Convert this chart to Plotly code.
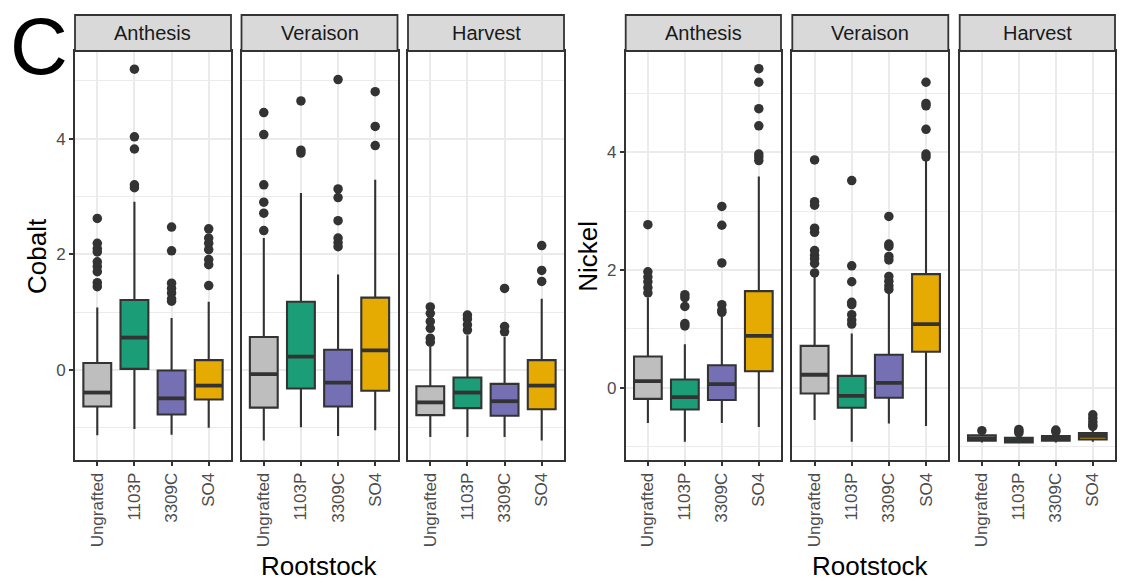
import plotly.graph_objects as go

W, H = 1127, 585

rootstocks = ["Ungrafted", "1103P", "3309C", "SO4"]
stages = ["Anthesis", "Veraison", "Harvest"]
box_colors = ["#BEBEBE", "#1B9E77", "#7570B3", "#E6AB02"]

# ---- Cobalt (rows: Anthesis, Veraison, Harvest; cols: rootstocks) ----
cobalt_q1 = [[-0.63, 0.02, -0.77, -0.51],
             [-0.65, -0.32, -0.63, -0.36],
             [-0.78, -0.66, -0.79, -0.68]]
cobalt_median = [[-0.39, 0.56, -0.49, -0.27],
                 [-0.07, 0.23, -0.22, 0.34],
                 [-0.56, -0.39, -0.54, -0.27]]
cobalt_q3 = [[0.12, 1.21, -0.01, 0.17],
             [0.57, 1.18, 0.35, 1.25],
             [-0.28, -0.13, -0.24, 0.17]]
cobalt_low = [[-1.13, -1.02, -1.12, -1.00],
              [-1.22, -0.99, -1.14, -1.04],
              [-1.16, -1.16, -1.16, -1.22]]
cobalt_high = [[1.08, 2.91, 0.90, 1.18],
               [2.28, 3.06, 1.65, 3.29],
               [0.40, 0.60, 0.57, 1.23]]
cobalt_outliers = [
    [[2.62, 2.19, 2.10, 2.04, 1.87, 1.79, 1.70, 1.51, 1.44],
     [5.20, 4.03, 3.82, 3.20, 3.15],
     [2.47, 2.06, 1.50, 1.41, 1.33, 1.23, 1.19],
     [2.44, 2.28, 2.19, 2.08, 1.91, 1.82, 1.46]],
    [[4.45, 4.07, 3.20, 2.90, 2.71, 2.41],
     [4.65, 3.80, 3.75],
     [5.02, 3.13, 2.98, 2.58, 2.28, 2.20, 2.13],
     [4.81, 4.21, 3.88]],
    [[1.09, 0.98, 0.84, 0.72, 0.55, 0.48],
     [0.95, 0.88, 0.78, 0.69],
     [1.41, 0.75, 0.66],
     [2.15, 1.72, 1.53]],
]

# ---- Nickel ----
nickel_q1 = [[-0.19, -0.37, -0.21, 0.28],
             [-0.10, -0.34, -0.17, 0.61],
             [-0.90, -0.93, -0.90, -0.88]]
nickel_median = [[0.11, -0.16, 0.06, 0.88],
                 [0.22, -0.14, 0.08, 1.08],
                 [-0.86, -0.89, -0.86, -0.82]]
nickel_q3 = [[0.53, 0.14, 0.38, 1.64],
             [0.71, 0.20, 0.56, 1.93],
             [-0.81, -0.85, -0.82, -0.77]]
nickel_low = [[-0.60, -0.92, -0.60, -0.67],
              [-0.55, -0.92, -0.61, -0.65],
              [-0.93, -0.95, -0.93, -0.92]]
nickel_high = [[1.53, 0.74, 1.21, 3.59],
               [1.89, 0.92, 1.60, 3.88],
               [-0.76, -0.80, -0.77, -0.70]]
nickel_outliers = [
    [[2.77, 1.97, 1.88, 1.80, 1.70, 1.61],
     [1.58, 1.53, 1.38, 1.09, 1.05],
     [3.08, 2.76, 2.12, 1.41, 1.32, 1.28],
     [5.42, 5.19, 4.74, 4.45, 3.97, 3.92, 3.86]],
    [[3.87, 3.16, 3.10, 2.71, 2.64, 2.33, 2.25, 2.19, 2.11, 1.95],
     [3.52, 2.07, 1.80, 1.45, 1.41, 1.24, 1.15, 1.08],
     [2.91, 2.44, 2.40, 2.23, 2.17, 1.89, 1.81, 1.73, 1.67],
     [5.19, 4.83, 4.79, 4.39, 3.97, 3.92]],
    [[-0.73],
     [-0.71, -0.74, -0.77],
     [-0.72, -0.75],
     [-0.46, -0.52, -0.58, -0.63, -0.66]],
]

y_ticks = [0, 2, 4]
y_minor = [-1, 1, 3, 5]

# ---------------- layout geometry (pixels) ----------------
FONT = "Liberation Sans, Arial, Helvetica, sans-serif"
DARK = "#333333"
GRID = "#EBEBEB"
panel_top, panel_bottom = 51, 460
strip_top = 15
panels_px = [
    [(75, 231), (241.5, 397.5), (408, 564)],
    [(625.7, 781), (792.3, 948.3), (959.7, 1115)],
]
y_ranges = [(-1.556, 5.514), (-1.229, 5.721)]
metrics = [
    ("Cobalt", cobalt_q1, cobalt_median, cobalt_q3, cobalt_low, cobalt_high, cobalt_outliers),
    ("Nickel", nickel_q1, nickel_median, nickel_q3, nickel_low, nickel_high, nickel_outliers),
]


def px_x(v):
    return v / W


def px_y(v):
    return 1 - v / H


BOX_W = 0.75
fig = go.Figure()
layout = {}
shapes = []
annotations = []

k = 0
for m, (name, q1, med, q3, lo, hi, outl) in enumerate(metrics):
    for s, stage in enumerate(stages):
        k += 1
        xa = "x" if k == 1 else f"x{k}"
        ya = "y" if k == 1 else f"y{k}"
        xkey = "xaxis" if k == 1 else f"xaxis{k}"
        ykey = "yaxis" if k == 1 else f"yaxis{k}"
        x0, x1 = panels_px[m][s]

        for i, rs in enumerate(rootstocks):
            fig.add_trace(go.Box(
                x=[i + 1], q1=[q1[s][i]], median=[med[s][i]], q3=[q3[s][i]],
                lowerfence=[lo[s][i]], upperfence=[hi[s][i]],
                width=BOX_W, whiskerwidth=0, boxpoints=False,
                fillcolor=box_colors[i], line=dict(color=DARK, width=2.1),
                xaxis=xa, yaxis=ya, showlegend=False, hoverinfo="skip",
            ))
        # thicker median bars (ggplot style)
        mx, my = [], []
        for i in range(len(rootstocks)):
            mx += [i + 1 - BOX_W / 2, i + 1 + BOX_W / 2, None]
            my += [med[s][i], med[s][i], None]
        fig.add_trace(go.Scatter(x=mx, y=my, mode="lines",
                                 line=dict(color=DARK, width=3.8),
                                 xaxis=xa, yaxis=ya, showlegend=False, hoverinfo="skip"))
        # outliers
        ox, oy = [], []
        for i in range(len(rootstocks)):
            ox += [i + 1] * len(outl[s][i])
            oy += outl[s][i]
        fig.add_trace(go.Scatter(x=ox, y=oy, mode="markers",
                                 marker=dict(color=DARK, size=9.5, line=dict(width=0)),
                                 xaxis=xa, yaxis=ya, showlegend=False, hoverinfo="skip"))

        layout[xkey] = dict(
            domain=[px_x(x0), px_x(x1)], anchor=ya, range=[0.4, 4.6],
            tickmode="array", tickvals=[1, 2, 3, 4], ticktext=rootstocks,
            tickangle=-90, ticks="outside", ticklen=4, tickwidth=1.6, tickcolor=DARK,
            tickfont=dict(family=FONT, size=17, color="#4D4D4D"),
            showline=True, mirror=True, linecolor=DARK, linewidth=1.8,
            showgrid=True, gridcolor=GRID, gridwidth=1.6, zeroline=False, fixedrange=True,
        )
        first = (s == 0)
        layout[ykey] = dict(
            domain=[px_y(panel_bottom), px_y(panel_top)], anchor=xa,
            range=list(y_ranges[m]), tickmode="array", tickvals=y_ticks,
            ticktext=[str(t) for t in y_ticks],
            showticklabels=first, ticks="outside" if first else "",
            ticklen=4, tickwidth=1.6, tickcolor=DARK,
            tickfont=dict(family=FONT, size=17, color="#4D4D4D"),
            showline=True, mirror=True, linecolor=DARK, linewidth=1.8,
            showgrid=True, gridcolor=GRID, gridwidth=1.6, zeroline=False, fixedrange=True,
            minor=dict(tickmode="array", tickvals=y_minor, showgrid=True,
                       gridcolor=GRID, gridwidth=0.8, ticks=""),
        )
        # facet strip
        shapes.append(dict(type="rect", xref="paper", yref="paper",
                           x0=px_x(x0), x1=px_x(x1), y0=px_y(panel_top), y1=px_y(strip_top),
                           fillcolor="#D9D9D9", line=dict(color=DARK, width=1.8), layer="above"))
        annotations.append(dict(text=stage, xref="paper", yref="paper",
                                x=px_x((x0 + x1) / 2), y=px_y((strip_top + panel_top) / 2),
                                xanchor="center", yanchor="middle", showarrow=False,
                                font=dict(family=FONT, size=20, color="#1A1A1A")))

    # axis titles
    fx0 = panels_px[m][0][0]
    fx1 = panels_px[m][2][1]
    annotations.append(dict(text="Rootstock", xref="paper", yref="paper",
                            x=px_x((fx0 + fx1) / 2), y=px_y(566), xanchor="center",
                            yanchor="middle", showarrow=False,
                            font=dict(family=FONT, size=26, color="black")))
    annotations.append(dict(text=name, xref="paper", yref="paper",
                            x=px_x(fx0 - 38), y=px_y(256), xanchor="center",
                            yanchor="middle", showarrow=False, textangle=-90,
                            font=dict(family=FONT, size=26, color="black")))

# panel label
annotations.append(dict(text="C", xref="paper", yref="paper",
                        x=px_x(39), y=1, xanchor="center", yanchor="top",
                        showarrow=False, font=dict(family=FONT, size=80, color="black")))

fig.update_layout(
    width=W, height=H, margin=dict(l=0, r=0, t=0, b=0),
    paper_bgcolor="white", plot_bgcolor="white",
    showlegend=False, shapes=shapes, annotations=annotations,
    boxmode="overlay",
    **layout,
)

fig.write_html("out.html", config={"displayModeBar": False})
